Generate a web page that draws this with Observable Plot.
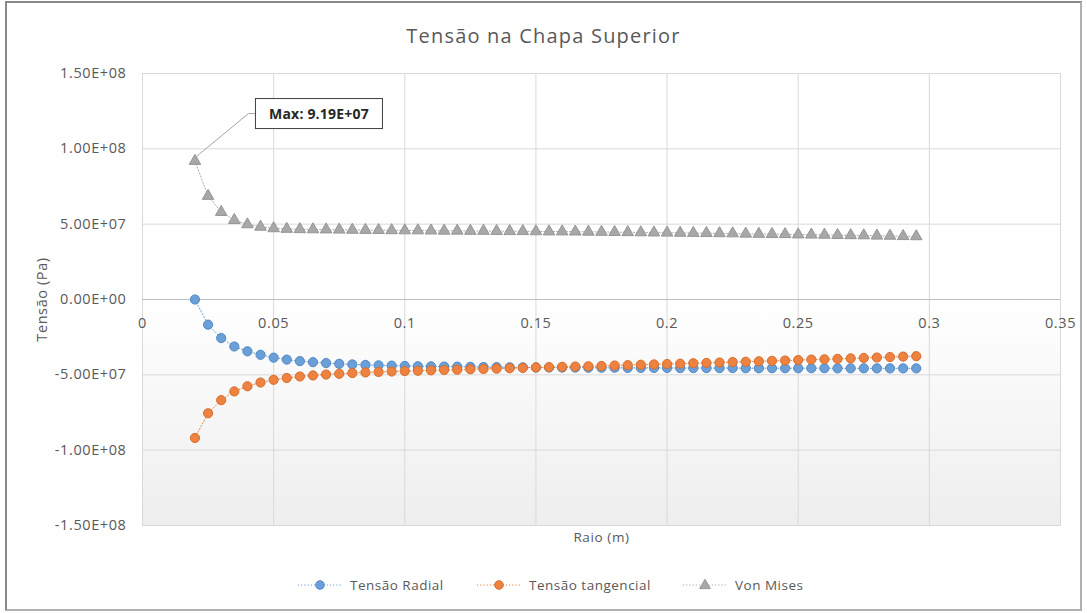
<!DOCTYPE html>
<html><head><meta charset="utf-8">
<script src="https://cdn.jsdelivr.net/npm/d3@7"></script>
<script src="https://cdn.jsdelivr.net/npm/@observablehq/plot@0.6"></script>
<style>
body{margin:0;background:#fff;}
#wrap{position:relative;width:1087px;height:613px;overflow:hidden;font-family:"Open Sans",sans-serif;background:#fff;}
#frame{position:absolute;left:5px;top:1px;width:1077px;height:610px;border:2px solid #8a8a8a;border-right-color:#b0b0b0;border-bottom-color:#b0b0b0;box-sizing:border-box;}
#title{position:absolute;left:0;width:1087px;top:22px;text-align:center;font-size:20px;letter-spacing:1.2px;color:#595959;}
#chart{position:absolute;left:0;top:50px;}
#legend{position:absolute;top:576px;left:0;width:1087px;height:20px;font-size:13.5px;letter-spacing:0.5px;color:#595959;}
.item{position:absolute;top:0;display:flex;align-items:center;white-space:nowrap;}
.item svg{margin-right:8px;}
</style></head>
<body><div id="wrap"><div id="frame"></div><div id="title"></div><div id="chart"></div><div id="legend"></div></div>
<script>
const chartTitle = "Tensão na Chapa Superior";
const xLabel = "Raio (m)";
const yLabel = "Tensão (Pa)";
const seriesNames = ["Tensão Radial", "Tensão tangencial", "Von Mises"];
const seriesColors = ["#6A9FD8", "#EE8240", "#A8A8A8"];
const seriesStrokes = ["#5289C4", "#D86E2A", "#969696"];
const xTicks = [0, 0.05, 0.1, 0.15, 0.2, 0.25, 0.3, 0.35];
const yTicks = [-1.5e8, -1e8, -5e7, 0, 5e7, 1e8, 1.5e8];

const radius = [0.02,0.025,0.03,0.035,0.04,0.045,0.05,0.055,0.06,0.065,0.07,0.075,0.08,0.085,0.09,0.095,
  0.1,0.105,0.11,0.115,0.12,0.125,0.13,0.135,0.14,0.145,0.15,0.155,0.16,0.165,0.17,0.175,0.18,0.185,0.19,0.195,
  0.2,0.205,0.21,0.215,0.22,0.225,0.23,0.235,0.24,0.245,0.25,0.255,0.26,0.265,0.27,0.275,0.28,0.285,0.29,0.295];
const radial = [0,-1.67e7,-2.56e7,-3.12e7,-3.44e7,-3.67e7,-3.86e7,-3.99e7,-4.09e7,-4.16e7,-4.22e7,-4.27e7,-4.31e7,-4.34e7,-4.37e7,-4.39e7,
  -4.41e7,-4.43e7,-4.44e7,-4.45e7,-4.46e7,-4.47e7,-4.48e7,-4.49e7,-4.50e7,-4.50e7,-4.51e7,-4.51e7,-4.52e7,-4.52e7,-4.53e7,-4.53e7,-4.53e7,-4.54e7,-4.54e7,-4.54e7,
  -4.54e7,-4.55e7,-4.55e7,-4.55e7,-4.55e7,-4.55e7,-4.56e7,-4.56e7,-4.56e7,-4.56e7,-4.56e7,-4.56e7,-4.56e7,-4.57e7,-4.57e7,-4.57e7,-4.57e7,-4.57e7,-4.57e7,-4.57e7];
const tangential = [-9.19e7,-7.55e7,-6.68e7,-6.10e7,-5.76e7,-5.51e7,-5.33e7,-5.21e7,-5.11e7,-5.04e7,-4.98e7,-4.93e7,-4.88e7,-4.84e7,-4.81e7,-4.78e7,
  -4.75e7,-4.73e7,-4.70e7,-4.68e7,-4.66e7,-4.63e7,-4.61e7,-4.59e7,-4.56e7,-4.54e7,-4.51e7,-4.49e7,-4.47e7,-4.45e7,-4.43e7,-4.41e7,-4.38e7,-4.36e7,-4.33e7,-4.31e7,
  -4.28e7,-4.26e7,-4.23e7,-4.21e7,-4.18e7,-4.15e7,-4.13e7,-4.10e7,-4.07e7,-4.05e7,-4.02e7,-3.99e7,-3.97e7,-3.94e7,-3.91e7,-3.88e7,-3.85e7,-3.82e7,-3.79e7,-3.76e7];
const vonMises = [9.19e7,6.87e7,5.80e7,5.27e7,4.98e7,4.82e7,4.72e7,4.68e7,4.66e7,4.65e7,4.64e7,4.63e7,4.62e7,4.61e7,4.60e7,4.59e7,
  4.58e7,4.58e7,4.57e7,4.56e7,4.56e7,4.55e7,4.55e7,4.54e7,4.53e7,4.53e7,4.52e7,4.51e7,4.51e7,4.50e7,4.49e7,4.48e7,4.47e7,4.46e7,4.45e7,4.44e7,
  4.43e7,4.42e7,4.41e7,4.40e7,4.39e7,4.38e7,4.36e7,4.35e7,4.34e7,4.33e7,4.31e7,4.30e7,4.29e7,4.27e7,4.26e7,4.25e7,4.23e7,4.22e7,4.20e7,4.19e7];

function sci(v) {
  const s = v.toExponential(2);
  const [m, e] = s.split("e");
  const sign = e[0] === "-" ? "-" : "+";
  const digits = e.replace(/[+-]/, "").padStart(2, "0");
  return m + "E" + sign + digits;
}

const seriesValues = [radial, tangential, vonMises];
const rows = [];
seriesValues.forEach((vals, s) => vals.forEach((v, i) => rows.push({s, r: radius[i], v})));
const ser = s => rows.filter(d => d.s === s);

document.getElementById("title").textContent = chartTitle;

const defs = () => {
  const d = d3.create("svg:defs");
  const g = d.append("linearGradient").attr("id", "bgGrad").attr("x1", 0).attr("y1", 0).attr("x2", 0).attr("y2", 1);
  g.append("stop").attr("offset", "0%").attr("stop-color", "#ffffff");
  g.append("stop").attr("offset", "100%").attr("stop-color", "#eeeeee");
  return d.node();
};

const marks = [
  defs,
  Plot.rect([0], {x1: () => xTicks[0], x2: () => xTicks[xTicks.length - 1], y1: () => yTicks[0], y2: () => 0, fill: "url(#bgGrad)"}),
  Plot.gridX(xTicks, {stroke: "#d9d9d9", strokeOpacity: 1}),
  Plot.gridY(yTicks, {stroke: "#d9d9d9", strokeOpacity: 1}),
  Plot.frame({stroke: "#d9d9d9"}),
  Plot.ruleY([0], {stroke: "#bfbfbf"}),
  Plot.axisY(yTicks, {tickFormat: sci, tickSize: 0, tickPadding: 16, fontSize: 14.5, color: "#595959",
    label: yLabel, labelAnchor: "center", labelOffset: 106, labelArrow: "none"}),
  Plot.text(xTicks, {x: d => d, y: () => 0, text: d => String(d), dy: 24, fontSize: 14.5, fill: "#595959"}),
  Plot.text([xLabel], {frameAnchor: "bottom", text: d => d, dy: 16, fontSize: 13.5, fill: "#595959"})
];
const symbols = ["circle", "circle", "triangle"];
[0, 1, 2].forEach(s => {
  marks.push(Plot.line(ser(s), {x: "r", y: "v", stroke: seriesColors[s], strokeWidth: 1, strokeDasharray: "1.2,2"}));
  marks.push(Plot.dot(ser(s), {x: "r", y: "v", symbol: symbols[s], r: s === 2 ? 4.3 : 4.6, fill: seriesColors[s], stroke: seriesStrokes[s], strokeWidth: 1}));
});

const plot = Plot.plot({
  width: 1087, height: 510,
  marginTop: 23, marginBottom: 35, marginLeft: 142, marginRight: 27,
  style: {fontFamily: "Open Sans, sans-serif", background: "transparent", letterSpacing: "0.6px"},
  x: {domain: [xTicks[0], xTicks[xTicks.length - 1]], axis: null},
  y: {domain: [yTicks[0], yTicks[yTicks.length - 1]]},
  marks
});
document.getElementById("chart").appendChild(plot);

// annotation for the Von Mises maximum
const iMax = d3.maxIndex(vonMises);
const sx = plot.scale("x"), sy = plot.scale("y");
const px = sx.apply(radius[iMax]), py = sy.apply(vonMises[iMax]);
const svg = d3.select(plot);
const ann = svg.append("g");
ann.append("path").attr("d", `M${px + 2},${py - 4}L${px + 54},${py - 47}L${px + 61},${py - 47}`)
  .attr("fill", "none").attr("stroke", "#a5a5a5").attr("stroke-width", 1);
ann.append("rect").attr("x", px + 61).attr("y", py - 62).attr("width", 127).attr("height", 30)
  .attr("fill", "#fff").attr("stroke", "#404040").attr("stroke-width", 1);
ann.append("text").attr("x", px + 124.5).attr("y", py - 47).attr("text-anchor", "middle").attr("dominant-baseline", "central")
  .attr("font-size", 14).attr("font-weight", "bold").attr("letter-spacing", "0.2px").attr("fill", "#262626").text("Max: " + sci(vonMises[iMax]));

// legend: marker centres follow the reference layout
const legendLeft = [298, 477, 683];
const leg = d3.select("#legend");
seriesNames.forEach((name, s) => {
  const it = leg.append("div").attr("class", "item").style("left", legendLeft[s] + "px");
  const sv = it.append("svg").attr("width", 44).attr("height", 14);
  sv.append("line").attr("x1", 0).attr("x2", 44).attr("y1", 7).attr("y2", 7).attr("stroke", seriesColors[s]).attr("stroke-dasharray", "1.2,2");
  if (symbols[s] === "circle") sv.append("circle").attr("cx", 22).attr("cy", 7).attr("r", 4.3).attr("fill", seriesColors[s]).attr("stroke", seriesStrokes[s]);
  else sv.append("path").attr("d", d3.symbol(d3.symbolTriangle, 50)()).attr("transform", "translate(22,7.5)").attr("fill", seriesColors[s]).attr("stroke", seriesStrokes[s]);
  it.append("span").text(name);
});
</script></body></html>
